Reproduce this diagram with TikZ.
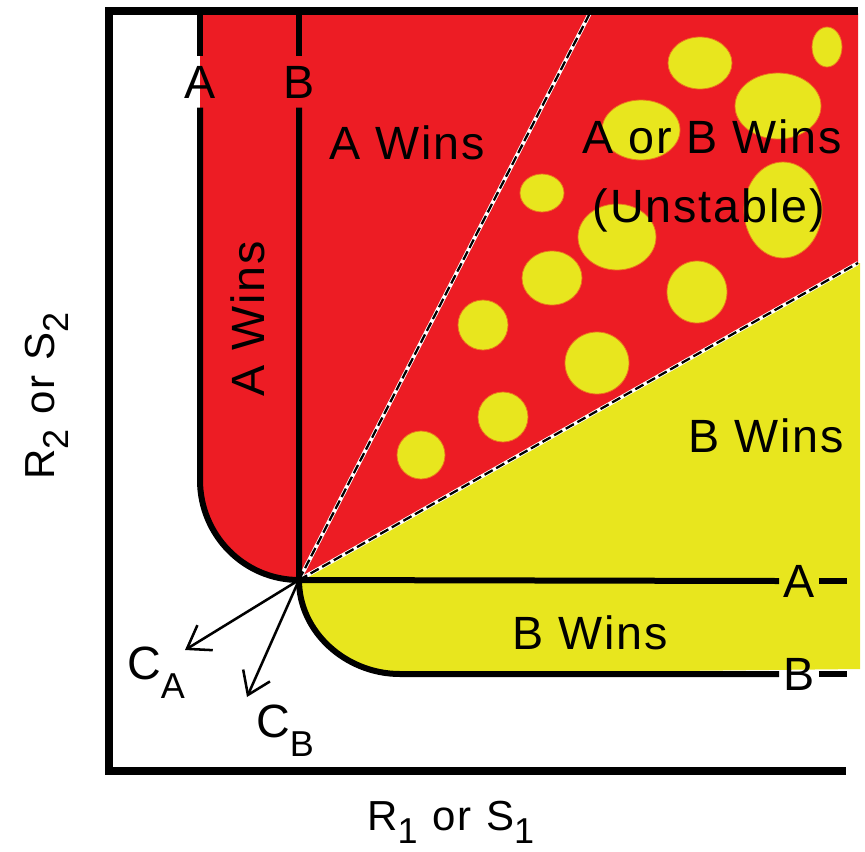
\documentclass[tikz,border=0pt]{standalone}
\usepackage{fontspec}
\setmainfont{Liberation Sans}[LetterSpace=4]
\usetikzlibrary{arrows.meta}
\definecolor{myred}{RGB}{237,28,36}
\definecolor{myyellow}{RGB}{232,230,30}
\definecolor{dotedge}{RGB}{235,120,30}
\newcommand{\lowsub}[1]{\raisebox{-0.42em}{\fontsize{27}{30}\selectfont #1}}
\newcommand{\axsub}[1]{\raisebox{-0.33em}{\fontsize{27}{30}\selectfont #1}}
\begin{document}
\begin{tikzpicture}[x=0.75pt,y=-0.75pt,
  lbl/.style={font=\fontsize{35}{40}\selectfont, inner sep=0pt},
  endlbl/.style={font=\fontsize{35}{40}\selectfont, inner xsep=3pt, inner ysep=7pt},
  axlbl/.style={font=\fontsize{31.5}{36}\selectfont, inner sep=0pt},
  iso/.style={line width=4.5pt, line join=round},
  frameline/.style={line width=6pt, line join=miter},
  dot/.style={fill=myyellow, draw=dotedge, line width=0.6pt},
  sepwhite/.style={white, line width=3pt},
  sepdash/.style={black, line width=1.7pt, dash pattern=on 7pt off 3pt},
  arr/.style={line width=1.9pt, -{Straight Barb[length=16pt,width=22pt,line width=1.9pt]}}]
\useasboundingbox (0,0) rectangle (865,851);

\coordinate (o) at (299,580);
\coordinate (ulend) at (590,13);
\coordinate (llend) at (858,263);

% red region
\fill[myred] (200,13) -- (858,13) -- (llend) -- (o)
  .. controls (244,580) and (200,535) .. (200,480) -- cycle;
% yellow region
\fill[myyellow] (o) -- (llend) -- (860,263) -- (860,669) -- (400,674)
  .. controls (346,674) and (299,632) .. (o) -- cycle;

% dots
\foreach \cx/\cy/\rx/\ry in {827/47/15/20, 700/63/32/26, 778/106/43/33,
   641/130/39/30, 542/193/22/19, 617/237/39/33, 783/210/39/48,
   552/278/30/27, 697/292/30/31, 483/325/25/25, 597/363/32/31,
   503/417/25/25, 421/455/24/24}
  \path[dot] (\cx,\cy) ellipse [x radius=\rx*0.75pt, y radius=\ry*0.75pt];

% separatrices
\draw[sepwhite] (o) -- (ulend);
\draw[sepdash] (o) -- (ulend);
\draw[sepwhite] (o) -- (llend);
\draw[sepdash] (o) -- (llend);

% end labels of isoclines
\node[endlbl] (Atop) at (200,82) {A};
\node[endlbl] (Btop) at (299,82) {B};
\node[endlbl] (Aright) at (799,581) {A};
\node[endlbl] (Bright) at (799,674) {B};

% isocline A
\draw[iso] (200,12) -- (Atop.north);
\draw[iso] (Atop.south) -- (200,480) .. controls (200,535) and (244,580) .. (o) -- (Aright.west);
\draw[iso] (Aright.east) -- (847,581);
% isocline B
\draw[iso] (299,12) -- (Btop.north);
\draw[iso] (Btop.south) -- (o) .. controls (299,632) and (346,674) .. (400,674) -- (Bright.west);
\draw[iso] (Bright.east) -- (847,674);

% frame
\draw[frameline] (858,11) -- (109,11) -- (109,771) -- (846,771);

% consumption vectors
\coordinate (ca) at (185,650);
\coordinate (cb) at (247,697);
\draw[arr] (o) -- (ca);
\draw[arr] (o) -- (cb);
\node[lbl, anchor=base west] (calbl) at (127,679) {C\lowsub{A}};
\node[lbl, anchor=base west] (cblbl) at (256,737) {C\lowsub{B}};

% region labels
\node[lbl] (awins1) at (407,143) {A Wins};
\node[lbl, rotate=90] (awins2) at (248,319) {A Wins};
\node[lbl] (aorb) at (712,137) {A or B Wins};
\node[lbl] (unst) at (709,210) {(Unstable)};
\node[lbl] (bwins1) at (766,436) {B Wins};
\node[lbl] (bwins2) at (590,633) {B Wins};

% axis labels
\node[axlbl, anchor=base west] (xlab) at (367,830) {R\axsub{1}\hspace{0.35em}or\hspace{0.35em}S\axsub{1}};
\node[axlbl, anchor=base west, rotate=90] (ylab) at (55,480) {R\axsub{2}\hspace{0.35em}or\hspace{0.35em}S\axsub{2}};
\end{tikzpicture}
\end{document}
